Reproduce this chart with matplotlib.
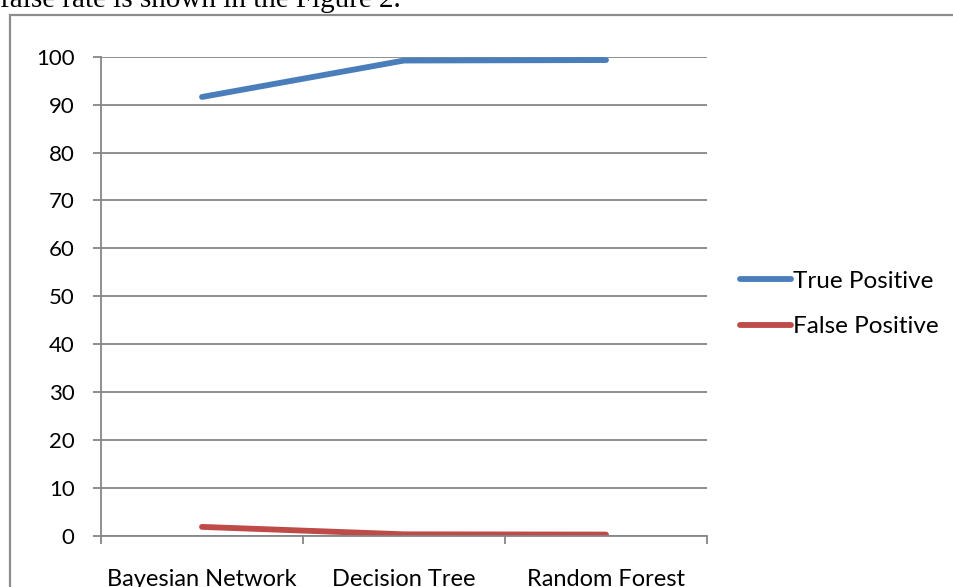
import matplotlib
matplotlib.use("Agg")
import matplotlib.pyplot as plt
from matplotlib.patches import Rectangle

categories = ["Bayesian Network", "Decision Tree", "Random Forest"]
true_positive = [91.6, 99.2, 99.3]
false_positive = [1.9, 0.35, 0.3]
y_ticks = [0, 10, 20, 30, 40, 50, 60, 70, 80, 90, 100]

W, H = 954, 587
fig = plt.figure(figsize=(W / 100, H / 100), dpi=100)
plt.rcParams['font.family'] = ['Lato', 'DejaVu Sans']

# border box of the embedded chart
fig.patches.append(Rectangle((10 / W, -0.1), 1.2, (H - 15) / H + 0.1,
                             transform=fig.transFigure, fill=False,
                             edgecolor='#8c8c8c', linewidth=1.6))
# cut-off text line above the chart
fig.text(0.0, (H - 7) / H, "false rate is shown in the Figure 2.",
         family='Liberation Serif', fontsize=21, va='baseline', ha='left')

ax = fig.add_axes([101 / W, (H - 536) / H, 606 / W, 479.3 / H])
x = list(range(len(categories)))
ax.plot(x, true_positive, color='#4A7EBB', lw=4.2, solid_capstyle='round',
        label='True Positive')
ax.plot(x, false_positive, color='#BE4B48', lw=4.2, solid_capstyle='round',
        label='False Positive')
ax.set_xlim(-0.5, len(categories) - 0.5)
ax.set_ylim(0, 100)
ax.set_yticks(y_ticks)
ax.grid(axis='y', color='#868686', lw=1.3)
ax.set_axisbelow(True)
for s in ['top', 'right']:
    ax.spines[s].set_visible(False)
for s in ['left', 'bottom']:
    ax.spines[s].set_color('#868686')
    ax.spines[s].set_linewidth(1.3)
ax.set_xticks([i - 0.5 for i in range(len(categories) + 1)])
ax.set_xticklabels([])
ax.set_xticks(x, minor=True)
ax.set_xticklabels(categories, minor=True)
ax.tick_params(axis='x', which='major', direction='out', length=6,
               width=1.3, color='#868686')
ax.tick_params(axis='x', which='minor', length=0, pad=24, labelsize=17)
ax.tick_params(axis='y', direction='out', length=6, width=1.3,
               color='#868686', pad=13, labelsize=16)

ax.legend(loc='center left', bbox_to_anchor=(740 / W, (H - 304) / H),
          bbox_transform=fig.transFigure, frameon=False, fontsize=17.5,
          handlelength=2.1, handletextpad=0.1, labelspacing=1.0,
          borderaxespad=0, borderpad=0)

fig.savefig("out.png", dpi=100)
